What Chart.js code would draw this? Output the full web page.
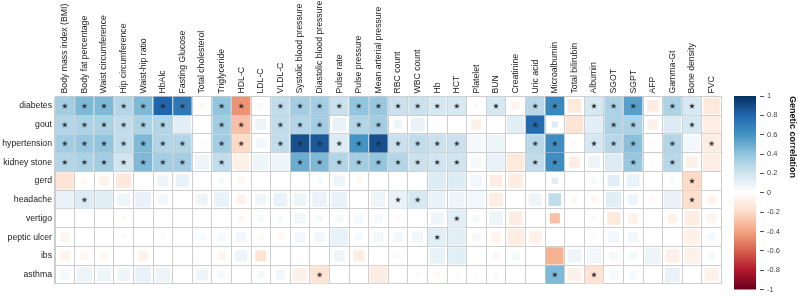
<!DOCTYPE html>
<html>
<head>
<meta charset="utf-8">
<script src="https://cdn.jsdelivr.net/npm/chart.js@4/dist/chart.umd.min.js"></script>
<style>
  html, body { margin: 0; padding: 0; background: #fff; }
  #wrap { position: relative; width: 798px; height: 297px; }
  #main { position: absolute; left: 0; top: 0; }
  #bar { position: absolute; left: 734px; top: 0; }
</style>
</head>
<body>
<div id="wrap">
  <canvas id="main" width="798" height="297"></canvas>
  <canvas id="bar" width="64" height="297"></canvas>
</div>
<script>
const traits = ["Body mass index (BMI)", "Body fat percentage", "Waist circumference", "Hip circumference",
  "Waist-hip ratio", "HbAlc", "Fasting Glucose", "Total cholesterol", "Triglyceride", "HDL-C", "LDL-C",
  "VLDL-C", "Systolic blood pressure", "Diastolic blood pressure", "Pulse rate", "Pulse pressure",
  "Mean arterial pressure", "RBC count", "WBC count", "Hb", "HCT", "Platelet", "BUN", "Creatinine",
  "Uric acid", "Microalbumin", "Total bilirubin", "Albumin", "SGOT", "SGPT", "AFP", "Gamma-Gt",
  "Bone density", "FVC"];

const diseases = ["diabetes", "gout", "hypertension", "kidney stone", "gerd", "headache", "vertigo",
  "peptic ulcer", "ibs", "asthma"];

// genetic correlation per disease (one value per trait)
const rgDiabetes = [0.35,0.45,0.45,0.3,0.45,0.8,0.72,-0.05,0.4,-0.45, 0.04,0.25,0.35,0.35,0.22,0.4,0.38,0.22,0.22,0.18, 0.18,0.03,0.18,-0.06,0.28,0.65,-0.12,0.18,0.32,0.55, -0.1,0.32,0.18,-0.12];
const rgGout = [0.3,0.32,0.32,0.25,0.32,0.3,0.12,0.01,0.35,-0.3, 0.08,0.25,0.3,0.35,0.1,0.3,0.35,0.08,0.1,0.03, 0.02,-0.08,0.01,0.12,0.78,0.15,-0.15,0.12,0.32,0.32, -0.08,0.15,0.18,-0.1];
const rgHyper = [0.35,0.38,0.4,0.25,0.45,0.3,0.3,0.03,0.35,-0.2, 0.06,0.25,0.88,0.85,0.15,0.6,0.88,0.22,0.25,0.22, 0.22,0.05,0.08,0,0.28,0.62,-0.03,0.18,0.28,0.42, -0.02,0.3,0.06,-0.1];
const rgKidney = [0.3,0.32,0.35,0.2,0.45,0.35,0.35,0.08,0.25,-0.08, 0.08,0.08,0.5,0.45,0.3,0.35,0.4,0.3,0.22,0.2, 0.2,0.05,0.1,-0.12,0.25,0.62,-0.1,0.08,0.15,0.38, -0.02,0.28,-0.08,-0.1];
const rgGerd = [-0.15,-0.04,-0.08,-0.12,0.01,0.08,0.1,0.01,0.05,-0.05, 0.01,0.01,0.01,0.05,0.08,-0.04,0.01,0.01,0.01,0.15, 0.15,0.06,-0.1,-0.1,0.01,0.12,0.01,0.05,0.12,0.1, 0.01,0.05,-0.2,0.01];
const rgHeadache = [0.1,0.15,0.12,0.07,0.1,0.06,0.01,0.08,0.1,-0.08, 0.07,0.1,0.08,0.1,0.1,0.01,0.08,0.1,0.18,0.1, 0.08,0.06,-0.1,0.01,0.08,0.25,-0.05,-0.05,0.12,0.08, -0.04,0.1,-0.18,-0.06];
const rgVertigo = [0,0.01,0.01,-0.04,0.01,0.01,0.01,0.01,0.01,-0.05, 0.05,0.04,0.06,0.05,0.05,0.05,0.05,-0.03,0,0.08, 0.12,0.05,0.08,-0.1,0,-0.3,0,0.03,-0.12,-0.08, 0.01,-0.08,-0.1,-0.06];
const rgPeptic = [-0.06,0.01,0,-0.03,0,0.03,0,0.05,0.05,0.06, -0.04,-0.04,0.06,0.06,0.1,0.05,0.06,0.06,0.06,0.12, 0.12,0.05,-0.06,-0.1,-0.08,0,0.01,-0.03,0.06,0.06, 0.01,0.01,-0.08,0.05];
const rgIbs = [-0.06,-0.05,-0.05,-0.01,-0.08,0.01,0.01,-0.03,-0.06,0.08, -0.15,0,-0.03,0,0.07,-0.1,0.01,0.03,0.01,0.1, 0.12,0,-0.05,0.05,0,-0.35,0.08,0.06,0.05,0.05, 0.08,-0.08,-0.08,0.05];
const rgAsthma = [0.05,0.08,0.07,0.07,0.1,0.08,0,0.07,0.05,0, 0.05,0.06,-0.08,-0.15,0.01,0.01,-0.1,0.01,0.03,-0.04, -0.03,-0.03,0.03,0,0,0.45,-0.08,-0.15,0.05,0.05, 0,0.1,0,-0.08];

// relative square size (evidence strength), 1 = full cell
const szDiabetes = [1,1,1,1,1,1,1,0.35,1,1, 0.3,1,1,1,1,1,1,1,1,1, 1,0.3,1,0.45,1,1,0.75,1,1,1, 0.65,1,1,0.9];
const szGout = [1,1,1,1,1,1,0.95,0.1,1,1, 0.6,1,1,1,0.75,1,1,0.45,0.75,0.2, 0.2,0.55,0.15,0.95,1,0.35,0.95,0.95,1,1, 0.55,0.95,1,0.95];
const szHyper = [1,1,1,1,1,1,1,0.25,1,1, 0.55,1,1,1,1,1,1,1,1,1, 1,0.95,0.95,0.1,1,1,0.3,1,1,1, 0.3,1,0.85,1];
const szKidney = [1,1,1,1,1,1,1,0.8,1,0.95, 0.85,0.95,1,1,1,1,1,1,1,1, 1,0.6,0.95,0.95,1,1,0.6,0.65,0.95,1, 0.25,1,0.65,0.95];
const szGerd = [0.95,0.35,0.5,0.8,0.15,0.6,0.7,0.15,0.35,0.4, 0.15,0.15,0.15,0.3,0.6,0.3,0.15,0.15,0.15,0.95, 0.95,0.65,0.7,0.8,0.15,0.35,0.15,0.3,0.65,0.7, 0.15,0.25,1,0.15];
const szHeadache = [0.95,1,0.95,0.7,0.85,0.55,0.15,0.6,0.8,0.5, 0.6,0.75,0.7,0.8,0.85,0.15,0.8,1,1,0.9, 0.85,0.9,0.75,0.15,0.7,0.7,0.35,0.35,0.85,0.55, 0.3,0.95,1,0.45];
const szVertigo = [0.1,0.2,0.2,0.25,0.15,0.15,0.15,0.15,0.15,0.3, 0.35,0.3,0.55,0.35,0.4,0.5,0.45,0.3,0.1,0.7, 1,0.4,0.75,0.75,0.1,0.55,0.1,0.25,0.7,0.55, 0.15,0.5,0.8,0.5];
const szPeptic = [0.5,0.15,0.1,0.25,0.1,0.25,0.1,0.35,0.45,0.55, 0.35,0.35,0.55,0.55,0.95,0.4,0.55,0.5,0.6,1, 0.95,0.45,0.55,0.9,0.7,0.1,0.15,0.25,0.6,0.55, 0.15,0.15,0.85,0.4];
const szIbs = [0.55,0.45,0.4,0.15,0.55,0.15,0.15,0.25,0.45,0.65, 0.6,0.1,0.25,0.1,0.6,0.6,0.15,0.3,0.15,0.85, 0.95,0.1,0.35,0.45,0.1,0.95,0.75,0.8,0.45,0.45, 0.85,0.75,0.85,0.4];
const szAsthma = [0.55,0.85,0.75,0.7,0.85,0.8,0.1,0.65,0.4,0.1, 0.4,0.5,0.75,1,0.15,0.15,0.95,0.2,0.3,0.35, 0.25,0.25,0.25,0.1,0.1,1,0.75,1,0.5,0.45, 0.1,0.8,0.1,0.75];

// trait indices marked with a star (significant)
const sigDiabetes = [0,1,2,3,4,5,6,8,9,11,12,13,14,15,16,17,18,19,20,22,24,25,27,28,29,31,32];
const sigGout = [0,1,2,3,4,5,8,9,11,12,13,15,16,24,28,29,32];
const sigHyper = [0,1,2,3,4,5,6,8,9,11,12,13,14,15,16,17,18,19,20,24,25,27,28,29,31,33];
const sigKidney = [0,1,2,3,4,5,6,8,12,13,14,15,16,17,18,19,20,24,25,29,31];
const sigGerd = [32];
const sigHeadache = [1,17,18,32];
const sigVertigo = [20];
const sigPeptic = [19];
const sigIbs = [];
const sigAsthma = [13,25,27];

const cbTicks = [-1, -0.8, -0.6, -0.4, -0.2, 0, 0.2, 0.4, 0.6, 0.8, 1];
const cbLabels = ["-1", "-0.8", "-0.6", "-0.4", "-0.2", "0", "0.2", "0.4", "0.6", "0.8", "1"];

const rgRows = [rgDiabetes, rgGout, rgHyper, rgKidney, rgGerd, rgHeadache, rgVertigo, rgPeptic, rgIbs, rgAsthma];
const szRows = [szDiabetes, szGout, szHyper, szKidney, szGerd, szHeadache, szVertigo, szPeptic, szIbs, szAsthma];
const sigRows = [sigDiabetes, sigGout, sigHyper, sigKidney, sigGerd, sigHeadache, sigVertigo, sigPeptic, sigIbs, sigAsthma];

// RdBu ramp from -1 to 1
const palette = ["#67001F", "#B2182B", "#D6604D", "#F4A582", "#FDDBC7", "#FFFFFF",
  "#D1E5F0", "#92C5DE", "#4393C3", "#2166AC", "#053061"];

function hexRgb(h) {
  return [parseInt(h.slice(1, 3), 16), parseInt(h.slice(3, 5), 16), parseInt(h.slice(5, 7), 16)];
}

function rdbu(v) {
  let t = (Math.max(-1, Math.min(1, v)) + 1) / 2 * (palette.length - 1);
  let i = Math.min(Math.floor(t), palette.length - 2);
  let f = t - i;
  let a = hexRgb(palette[i]), b = hexRgb(palette[i + 1]);
  let c = a.map((x, k) => Math.round(x + (b[k] - x) * f));
  return "rgb(" + c.join(",") + ")";
}

// cells
let cells = [];
let stars = [];
rgRows.forEach((row, r) => {
  row.forEach((v, c) => {
    cells.push({ x: traits[c], y: diseases[r], v: v, s: szRows[r][c] });
  });
  sigRows[r].forEach((c) => stars.push({ x: traits[c], y: diseases[r] }));
});

// small filled star glyph
const starImg = document.createElement("canvas");
starImg.width = 8;
starImg.height = 8;
(function () {
  let g = starImg.getContext("2d");
  g.fillStyle = "#2a2a2a";
  g.beginPath();
  for (let k = 0; k < 10; k++) {
    let rad = k % 2 == 0 ? 3.0 : 1.2;
    let ang = -Math.PI / 2 + k * Math.PI / 5;
    let px = 4 + rad * Math.cos(ang), py = 4.3 + rad * Math.sin(ang);
    k == 0 ? g.moveTo(px, py) : g.lineTo(px, py);
  }
  g.closePath();
  g.fill();
})();

const labelFont = { family: "'Liberation Sans', Arial, sans-serif", size: 8.7 };
const gridCol = "#cdcdcd";
const fullSide = 18.4;

new Chart(document.getElementById("main").getContext("2d"), {
  type: "scatter",
  data: {
    datasets: [
      {
        data: stars,
        pointStyle: starImg,
        pointRadius: 3,
        order: 0,
      },
      {
        data: cells,
        pointStyle: "rect",
        pointBorderWidth: 0,
        pointRadius: (c) => (c.raw.s * fullSide) / Math.SQRT2,
        pointBackgroundColor: (c) => rdbu(c.raw.v),
        order: 1,
      },
    ],
  },
  options: {
    responsive: false,
    animation: false,
    events: [],
    layout: { padding: { right: 76.6, bottom: 5.5 } },
    plugins: { legend: { display: false }, tooltip: { enabled: false } },
    scales: {
      x: {
        type: "category",
        labels: traits,
        position: "top",
        offset: true,
        grid: { offset: true, color: gridCol, drawTicks: false },
        border: { color: gridCol },
        ticks: {
          autoSkip: false,
          minRotation: 90,
          maxRotation: 90,
          padding: 3,
          labelOffset: 10.5,
          color: "#1a1a1a",
          font: labelFont,
        },
        afterFit: (s) => { s.height = 96.5; },
      },
      y: {
        type: "category",
        labels: diseases,
        offset: true,
        grid: { offset: true, color: gridCol, drawTicks: false },
        border: { color: gridCol },
        ticks: { autoSkip: false, padding: 3, color: "#1a1a1a", font: labelFont },
        afterFit: (s) => { s.width = 55; },
      },
    },
  },
});

// colour bar
const gradientFill = {
  id: "gradientFill",
  beforeDatasetsDraw(chart) {
    const { ctx, chartArea } = chart;
    const ys = chart.scales.y;
    let grad = ctx.createLinearGradient(0, ys.getPixelForValue(-1), 0, ys.getPixelForValue(1));
    palette.forEach((col, i) => grad.addColorStop(i / (palette.length - 1), col));
    ctx.save();
    ctx.fillStyle = grad;
    ctx.fillRect(chartArea.left, chartArea.top, chartArea.width - 4, chartArea.height);
    ctx.restore();
  },
};

new Chart(document.getElementById("bar").getContext("2d"), {
  type: "scatter",
  data: { datasets: [{ data: [] }] },
  plugins: [gradientFill],
  options: {
    responsive: false,
    animation: false,
    events: [],
    layout: { padding: { top: 96, bottom: 5 } },
    plugins: { legend: { display: false }, tooltip: { enabled: false } },
    scales: {
      x: { display: false },
      y: {
        position: "right",
        min: -1,
        max: 1,
        afterBuildTicks: (s) => { s.ticks = cbTicks.map((v) => ({ value: v })); },
        grid: { drawOnChartArea: false, tickLength: 4, tickColor: "#555", lineWidth: 1 },
        border: { display: false },
        ticks: {
          padding: 3,
          color: "#444",
          font: { family: "'Liberation Sans', Arial, sans-serif", size: 7.5 },
          callback: (v, i) => cbLabels[i],
        },
        title: {
          display: true,
          text: "Genetic correlation",
          align: "end",
          padding: 0,
          color: "#111",
          font: { family: "'Liberation Sans', Arial, sans-serif", size: 9, weight: "bold" },
        },
        afterFit: (s) => { s.width = 38; },
      },
    },
  },
});
</script>
</body>
</html>
